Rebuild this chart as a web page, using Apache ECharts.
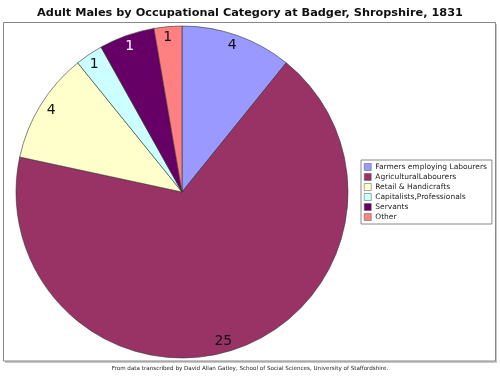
<!DOCTYPE html>
<html><head><meta charset="utf-8">
<script src="https://cdn.jsdelivr.net/npm/echarts@6/dist/echarts.min.js"></script>
<style>html,body{margin:0;padding:0;background:#fff}#c{width:500px;height:377px}</style>
</head><body><div id="c"></div>
<script>
const categories = ["Farmers employing Labourers","AgriculturalLabourers","Retail & Handicrafts","Capitalists,Professionals","Servants","Other"];
// slice sizes as drawn in the picture
const values = [4, 25, 4, 1, 2, 1];
// numbers printed on the slices in the picture
const sliceLabels = ["4", "25", "4", "1", "1", "1"];
const colors = ["#9999ff","#993366","#ffffcc","#ccffff","#660066","#ff8080"];
const labelColors = ["#111","#111","#111","#111","#fff","#111"];
const titleText = "Adult Males by Occupational Category at Badger, Shropshire, 1831";
const footText = "From data transcribed by David Allan Gatley, School of Social Sciences, University of Staffordshire.";

const chart = echarts.init(document.getElementById('c'), null, {renderer:'canvas'});
const font = "DejaVu Sans";
const labelOffsets = [[-2,1],[-11,1],[3,1],[0,2],[0,2],[-1,2]];
const pieData = categories.map((n,i)=>({name:n,value:values[i],itemStyle:{color:colors[i]}}));
const labelData = categories.map((n,i)=>({name:n,value:values[i],label:{color:labelColors[i],formatter:sliceLabels[i],offset:labelOffsets[i]}}));
chart.setOption({
  animation:false,
  title:{text:titleText,left:'center',top:3,textStyle:{fontFamily:font,fontSize:11.3,fontWeight:'bold',color:'#111'}},
  graphic:[
    {type:'rect',shape:{x:5,y:24,width:492,height:339},style:{fill:'#c8c8c8'},z:-2,silent:true},
    {type:'rect',shape:{x:3.5,y:22.5,width:492,height:338.5},style:{fill:'#fff',stroke:'#888',lineWidth:1},z:-1,silent:true},
    {type:'text',left:'center',top:365.5,style:{text:footText,font:'5.6px "DejaVu Sans"',fill:'#222'}}
  ],
  legend:{orient:'vertical',left:361,top:160,data:categories,itemWidth:7,itemHeight:7,itemGap:2.0,
    padding:[3,5,3,3],backgroundColor:'#fff',borderColor:'#888',borderWidth:1,
    icon:'rect',itemStyle:{borderColor:'#555',borderWidth:0.5},
    textStyle:{fontFamily:font,fontSize:7.5,color:'#222',padding:[0,0,0,-1]},selectedMode:false},
  series:[
    {type:'pie',center:[182,192],radius:[0,166],startAngle:90,clockwise:true,data:pieData,
     label:{show:false},labelLine:{show:false},silent:true,
     itemStyle:{borderColor:'#333',borderWidth:0.6}},
    {type:'pie',center:[182,192],radius:[142,166],startAngle:90,clockwise:true,data:labelData,
     itemStyle:{color:'rgba(0,0,0,0)',borderWidth:0},silent:true,legendHoverLink:false,
     label:{show:true,position:'inside',fontFamily:font,fontSize:14,color:'#111'},
     labelLine:{show:false},emphasis:{disabled:true}}
  ]
});
</script></body></html>
